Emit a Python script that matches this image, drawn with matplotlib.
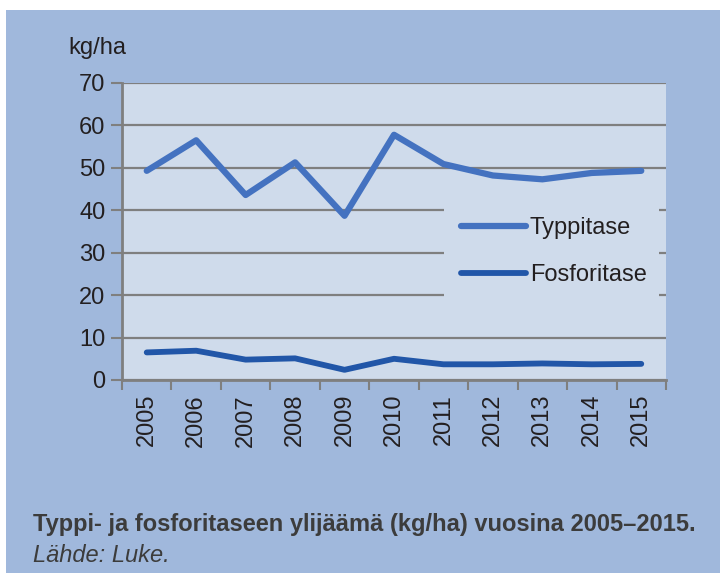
import matplotlib.pyplot as plt
from matplotlib.patches import Rectangle

years = ["2005", "2006", "2007", "2008", "2009", "2010", "2011", "2012", "2013", "2014", "2015"]
typpitase = [49.3, 56.5, 43.6, 51.3, 38.7, 57.8, 50.9, 48.2, 47.3, 48.8, 49.3]
fosforitase = [6.5, 6.9, 4.8, 5.1, 2.4, 5.0, 3.7, 3.7, 3.9, 3.7, 3.8]
yticks = [0, 10, 20, 30, 40, 50, 60, 70]

plt.rcParams["font.family"] = ["Liberation Sans", "DejaVu Sans"]

bg = "#a0b8dc"
plotbg = "#cfdbeb"
grid = "#7f7f7f"
textcol = "#231f20"

fig = plt.figure(figsize=(7.2, 5.73), dpi=100)
fig.patches.append(Rectangle((6 / 720, 0), 1, 1 - 10 / 573, transform=fig.transFigure,
                             facecolor=bg, edgecolor="none", zorder=-10))

ax = fig.add_axes([122 / 720, 1 - 380 / 573, 544 / 720, 297 / 573])
ax.set_facecolor(plotbg)
x = list(range(len(years)))
ax.plot(x, typpitase, color="#4472c0", lw=4.5, solid_capstyle="round", label="Typpitase", zorder=3)
ax.plot(x, fosforitase, color="#2156a8", lw=4.2, solid_capstyle="round", label="Fosforitase", zorder=3)

ax.set_xlim(-0.5, len(years) - 0.5)
ax.set_ylim(0, 70)
ax.set_yticks(yticks)
ax.set_yticklabels([str(v) for v in yticks], fontsize=17, color=textcol)
ax.set_xticks([i - 0.5 for i in range(len(years) + 1)])
ax.set_xticklabels([])
ax.set_xticks(x, minor=True)
ax.set_xticklabels(years, minor=True, rotation=90, fontsize=17, color=textcol)
ax.tick_params(axis="x", which="minor", length=0, pad=10)
ax.tick_params(axis="x", which="major", length=7, width=1.5, color=grid, direction="out")
ax.tick_params(axis="y", length=8, width=1.5, color=grid, direction="out", pad=4)
ax.yaxis.grid(True, color=grid, lw=1.6)
ax.set_axisbelow(True)
for s in ["top", "right"]:
    ax.spines[s].set_visible(False)
for s in ["left", "bottom"]:
    ax.spines[s].set_color(grid)
    ax.spines[s].set_linewidth(2)

# legend sits on a plain box over the lower grid lines
leg = ax.legend(loc="center", bbox_to_anchor=(0.592, 0.227, 0.395, 0.41), mode="expand",
                frameon=True, fontsize=17, handlelength=2.75, handletextpad=0.17,
                labelspacing=1.04, borderpad=0.72, borderaxespad=0, fancybox=False)
leg.get_frame().set_facecolor(plotbg)
leg.get_frame().set_edgecolor("none")
leg.get_frame().set_alpha(1)
for t in leg.get_texts():
    t.set_color(textcol)

fig.text(68 / 720, 1 - 48 / 573, "kg/ha", fontsize=17, color=textcol, va="center", ha="left")
fig.text(33 / 720, 1 - 525 / 573, "Typpi- ja fosforitaseen ylijäämä (kg/ha) vuosina 2005–2015.",
         fontsize=17, fontweight="bold", color="#3c3c3c", va="center", ha="left")
fig.text(33 / 720, 1 - 556 / 573, "Lähde: Luke.", fontsize=17, style="italic",
         color="#3c3c3c", va="center", ha="left")

fig.savefig("out.png", dpi=100, facecolor="white")
